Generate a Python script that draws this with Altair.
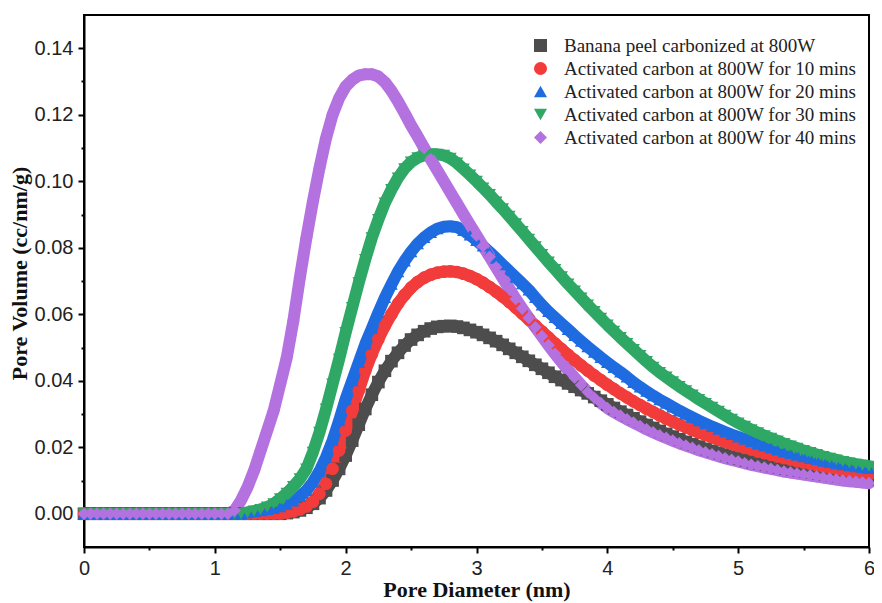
import altair as alt
import pandas as pd

# pore diameter grid (nm), 0.05 nm steps from 0 to 6
diameter = [round(i * 0.05, 2) for i in range(121)]

series_names = [
    "Banana peel carbonized at 800W",
    "Activated carbon at 800W for 10 mins",
    "Activated carbon at 800W for 20 mins",
    "Activated carbon at 800W for 30 mins",
    "Activated carbon at 800W for 40 mins",
]
series_colors = ["#4d4d4d", "#f23c3c", "#1f6be0", "#2ea864", "#b471e0"]
series_shapes = ["square", "circle", "triangle-up", "triangle-down", "diamond"]

banana_800w = [0.0] * 31 + [
    0.0002, 0.0005, 0.0010, 0.0018, 0.0030, 0.0047, 0.0070, 0.0100, 0.0135,
    0.0175, 0.0220, 0.0268, 0.0315, 0.0358, 0.0396, 0.0430, 0.0459, 0.0484, 0.0506,
    0.0524, 0.0538, 0.0549, 0.0557, 0.0562, 0.0564, 0.0565, 0.0563, 0.0559, 0.0553,
    0.0546, 0.0538, 0.0529, 0.0519, 0.0508, 0.0496, 0.0484, 0.0472, 0.0460, 0.0448,
    0.0436, 0.0424, 0.0412, 0.0402, 0.0392, 0.0382, 0.0372, 0.0362, 0.0351, 0.0340,
    0.0329, 0.0318, 0.0307, 0.0297, 0.0287, 0.0277, 0.0267, 0.0258, 0.0249, 0.0240,
    0.0232, 0.0224, 0.0216, 0.0209, 0.0202, 0.0195, 0.0189, 0.0183, 0.0177, 0.0171,
    0.0166, 0.0161, 0.0156, 0.0152, 0.0148, 0.0144, 0.0140, 0.0136, 0.0133, 0.0130,
    0.0127, 0.0124, 0.0121, 0.0118, 0.0116, 0.0113, 0.0111, 0.0109, 0.0107, 0.0105,
    0.0103,
]

ac_10min = [0.0] * 31 + [
    0.0003, 0.0007, 0.0013, 0.0022, 0.0036, 0.0060, 0.0090, 0.0135, 0.0190,
    0.0250, 0.0310, 0.0370, 0.0430, 0.0480, 0.0525, 0.0565, 0.0600, 0.0632, 0.0658,
    0.0680, 0.0697, 0.0710, 0.0719, 0.0725, 0.0728, 0.0729, 0.0727, 0.0722, 0.0715,
    0.0706, 0.0695, 0.0682, 0.0668, 0.0653, 0.0637, 0.0620, 0.0602, 0.0584, 0.0566,
    0.0548, 0.0530, 0.0512, 0.0495, 0.0478, 0.0462, 0.0446, 0.0431, 0.0416, 0.0402,
    0.0388, 0.0375, 0.0362, 0.0350, 0.0338, 0.0327, 0.0316, 0.0306, 0.0296, 0.0286,
    0.0277, 0.0268, 0.0260, 0.0252, 0.0244, 0.0237, 0.0230, 0.0223, 0.0216, 0.0210,
    0.0204, 0.0198, 0.0193, 0.0187, 0.0182, 0.0177, 0.0172, 0.0167, 0.0163, 0.0158,
    0.0154, 0.0150, 0.0146, 0.0142, 0.0138, 0.0135, 0.0131, 0.0128, 0.0124, 0.0121,
    0.0118,
]

ac_20min = [0.0] * 25 + [
    0.0003, 0.0006, 0.0009, 0.0012,
    0.0016, 0.0021, 0.0028, 0.0038, 0.0052, 0.0070, 0.0095, 0.0128, 0.0170, 0.0220,
    0.0280, 0.0345, 0.0400, 0.0455, 0.0510, 0.0557, 0.0605, 0.0650, 0.0690, 0.0728,
    0.0760, 0.0788, 0.0812, 0.0831, 0.0846, 0.0857, 0.0863, 0.0865, 0.0862, 0.0852,
    0.0838, 0.0822, 0.0805, 0.0787, 0.0768, 0.0749, 0.0730, 0.0711, 0.0692, 0.0673,
    0.0650, 0.0628, 0.0608, 0.0590, 0.0572, 0.0554, 0.0536, 0.0519, 0.0502, 0.0486,
    0.0470, 0.0455, 0.0440, 0.0426, 0.0411, 0.0395, 0.0381, 0.0368, 0.0355, 0.0343,
    0.0332, 0.0321, 0.0310, 0.0300, 0.0290, 0.0280, 0.0271, 0.0262, 0.0254, 0.0246,
    0.0238, 0.0231, 0.0224, 0.0217, 0.0210, 0.0204, 0.0198, 0.0192, 0.0186, 0.0181,
    0.0176, 0.0171, 0.0166, 0.0162, 0.0158, 0.0154, 0.0150, 0.0147, 0.0144, 0.0141,
    0.0138, 0.0136,
]

ac_30min = [0.0] * 25 + [
    0.0004, 0.0008, 0.0013, 0.0020, 0.0030, 0.0045, 0.0062, 0.0082, 0.0105, 0.0135,
    0.0185, 0.0245, 0.0315, 0.0390, 0.0465, 0.0545, 0.0620, 0.0695, 0.0765, 0.0830,
    0.0885, 0.0935, 0.0975, 0.1010, 0.1038, 0.1058, 0.1071, 0.1078, 0.1081, 0.1081,
    0.1078, 0.1069, 0.1055, 0.1037, 0.1019, 0.1000, 0.0980, 0.0960, 0.0938, 0.0917,
    0.0895, 0.0872, 0.0849, 0.0826, 0.0803, 0.0780, 0.0757, 0.0735, 0.0713, 0.0691,
    0.0670, 0.0649, 0.0628, 0.0608, 0.0588, 0.0568, 0.0549, 0.0530, 0.0512, 0.0494,
    0.0476, 0.0458, 0.0441, 0.0425, 0.0411, 0.0397, 0.0383, 0.0370, 0.0357, 0.0344,
    0.0332, 0.0320, 0.0308, 0.0296, 0.0284, 0.0273, 0.0263, 0.0253, 0.0244, 0.0235,
    0.0227, 0.0219, 0.0211, 0.0204, 0.0197, 0.0190, 0.0184, 0.0178, 0.0172, 0.0167,
    0.0162, 0.0157, 0.0153, 0.0149, 0.0146, 0.0143,
]

ac_40min = [0.0] * 23 + [
    0.0010, 0.0040, 0.0080, 0.0130, 0.0190, 0.0250, 0.0310, 0.0390, 0.0470, 0.0580,
    0.0710, 0.0830, 0.0940, 0.1040, 0.1130, 0.1200, 0.1250, 0.1285, 0.1305, 0.1318,
    0.1322, 0.1322, 0.1315, 0.1298, 0.1272, 0.1240, 0.1205, 0.1168, 0.1135, 0.1100,
    0.1066, 0.1033, 0.1000, 0.0967, 0.0934, 0.0901, 0.0869, 0.0837, 0.0805, 0.0773,
    0.0741, 0.0709, 0.0677, 0.0646, 0.0617, 0.0589, 0.0561, 0.0534, 0.0507, 0.0481,
    0.0456, 0.0432, 0.0409, 0.0387, 0.0366, 0.0349, 0.0333, 0.0318, 0.0306, 0.0295,
    0.0284, 0.0274, 0.0264, 0.0254, 0.0245, 0.0236, 0.0228, 0.0220, 0.0212, 0.0205,
    0.0198, 0.0191, 0.0185, 0.0179, 0.0173, 0.0167, 0.0162, 0.0157, 0.0152, 0.0147,
    0.0143, 0.0139, 0.0135, 0.0131, 0.0127, 0.0124, 0.0121, 0.0118, 0.0115, 0.0112,
    0.0109, 0.0106, 0.0103, 0.0100, 0.0098, 0.0096, 0.0094, 0.0092,
]

all_series = [banana_800w, ac_10min, ac_20min, ac_30min, ac_40min]
for s in all_series:
    assert len(s) == len(diameter), len(s)

rows = []
for name, vals in zip(series_names, all_series):
    for xv, yv in zip(diameter, vals):
        rows.append({"series": name, "diameter": xv, "volume": yv})
df = pd.DataFrame(rows)

x_ticks = [0, 0.5, 1, 1.5, 2, 2.5, 3, 3.5, 4, 4.5, 5, 5.5, 6]
y_ticks = [0, 0.01, 0.02, 0.03, 0.04, 0.05, 0.06, 0.07, 0.08, 0.09, 0.10,
           0.11, 0.12, 0.13, 0.14]

x_scale = alt.Scale(domain=[0, 6], nice=False, zero=False)
y_scale = alt.Scale(domain=[-0.01, 0.15], nice=False, zero=False)

x_axis = alt.Axis(
    values=x_ticks,
    format=".0f",
    labelExpr="datum.value % 1 === 0 ? datum.label : ''",
    tickSize={"condition": {"test": "datum.value % 1 === 0", "value": 6}, "value": 3},
    title="Pore Diameter (nm)",
    titlePadding=1,
    titleFontSize=22,
    labelPadding=5,
)
y_axis = alt.Axis(
    values=y_ticks,
    format=".2f",
    labelExpr="round(datum.value * 100) % 2 === 0 ? datum.label : ''",
    tickSize={"condition": {"test": "round(datum.value * 100) % 2 === 0", "value": 6}, "value": 3},
    title="Pore Volume (cc/nm/g)",
    titlePadding=3,
    titleFontSize=22,
    titleY=258,
    labelPadding=5,
)

layers = []
for name, col in zip(series_names, series_colors):
    layers.append(
        alt.Chart(df)
        .transform_filter(alt.datum.series == name)
        .mark_line(color=col, strokeWidth=12, strokeCap="round", strokeJoin="round")
        .encode(
            x=alt.X("diameter:Q", scale=x_scale, axis=x_axis),
            y=alt.Y("volume:Q", scale=y_scale, axis=y_axis),
        )
    )

legend = alt.Legend(title=None, orient="none", legendX=447, legendY=21)
points = alt.Chart(df).mark_point(filled=True, size=160, opacity=1).encode(
    x=alt.X("diameter:Q", scale=x_scale, axis=x_axis),
    y=alt.Y("volume:Q", scale=y_scale, axis=y_axis),
    color=alt.Color("series:N", scale=alt.Scale(domain=series_names, range=series_colors), legend=legend),
    shape=alt.Shape("series:N", scale=alt.Scale(domain=series_names, range=series_shapes), legend=legend),
)
layers.append(points)

chart = (
    alt.layer(*layers)
    .properties(
        width=785,
        height=532,
        padding={"left": 76, "top": 7, "right": 5, "bottom": 56},
        autosize=alt.AutoSizeParams(type="none"),
    )
    .configure_view(stroke="black", strokeWidth=2)
    .configure_axis(
        grid=False,
        domainColor="black",
        domainWidth=2,
        tickColor="black",
        tickWidth=2,
        labelFont="Liberation Sans",
        labelFontSize=20,
        labelColor="#222222",
        labelFlush=False,
        titleFont="Liberation Serif",
        titleFontWeight="bold",
        titleColor="#111111",
    )
    .configure_legend(
        labelFont="Liberation Serif",
        labelFontSize=19,
        labelColor="#222222",
        symbolSize=170,
        symbolStrokeWidth=0,
        rowPadding=3,
        labelOffset=14,
        padding=0,
        labelLimit=400,
    )
)

chart.save("out.html", embed_options={"renderer": "svg", "actions": False})
